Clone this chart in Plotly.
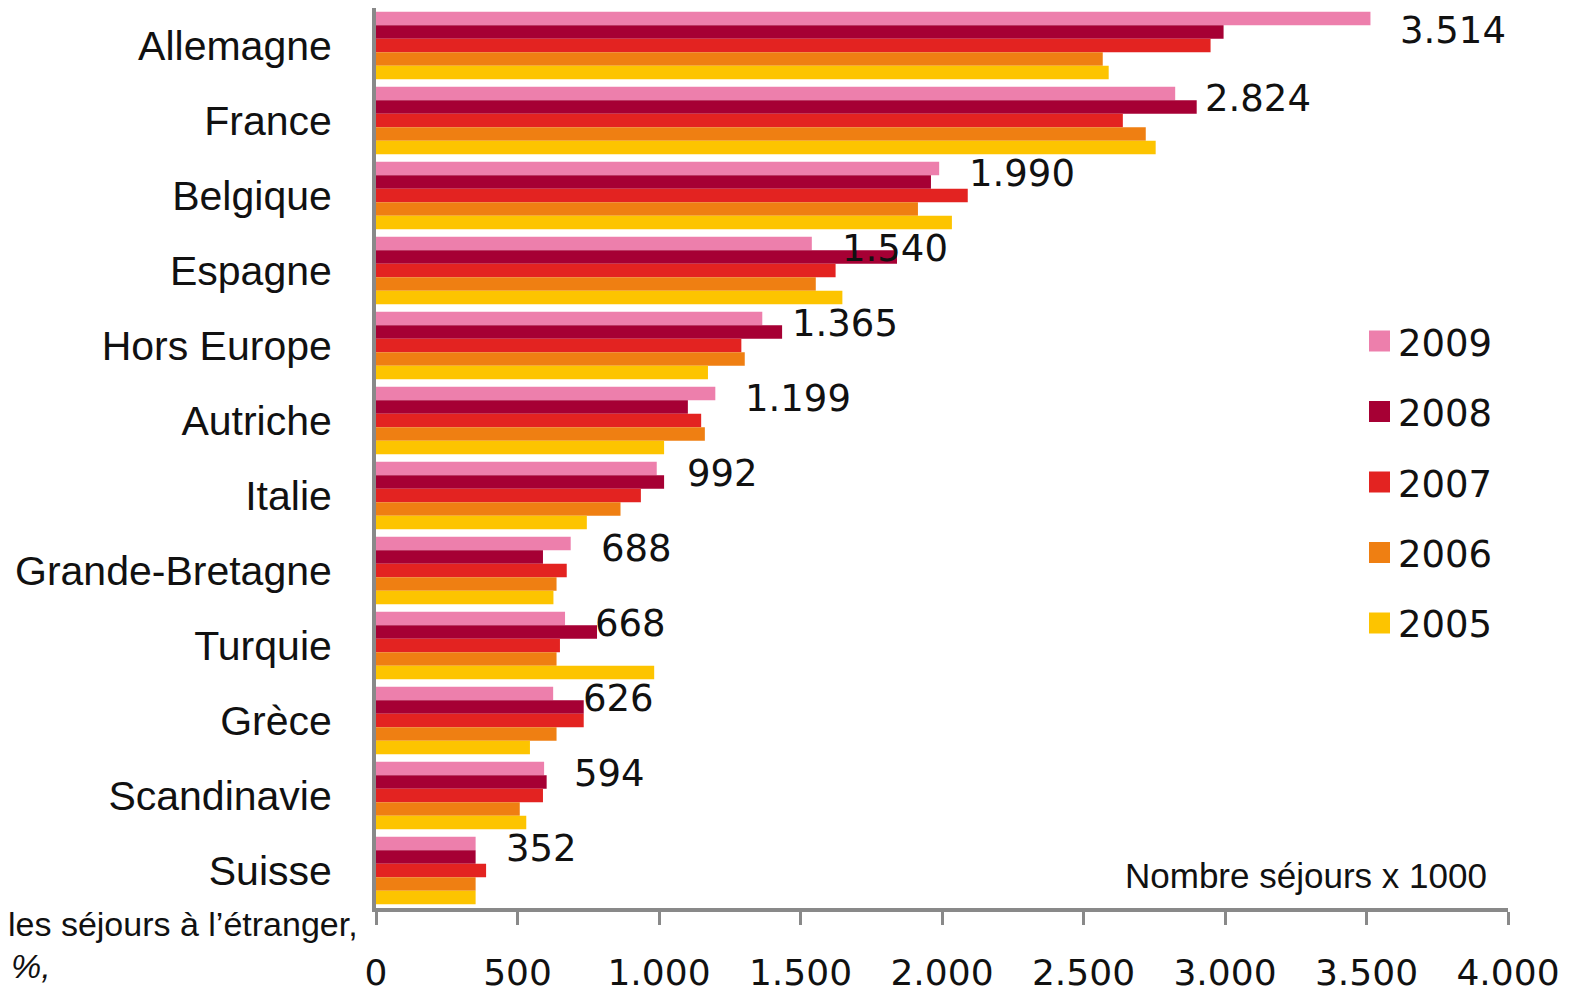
import plotly.graph_objects as go

# ---------------- data ----------------
categories = ["Allemagne", "France", "Belgique", "Espagne", "Hors Europe", "Autriche",
              "Italie", "Grande-Bretagne", "Turquie", "Grèce", "Scandinavie", "Suisse"]
years = ["2009", "2008", "2007", "2006", "2005"]
v2009 = [3514, 2824, 1990, 1540, 1365, 1199, 992, 688, 668, 626, 594, 352]
v2008 = [2995, 2900, 1961, 1841, 1435, 1102, 1018, 590, 781, 734, 603, 352]
v2007 = [2949, 2639, 2091, 1624, 1291, 1149, 936, 674, 650, 734, 590, 389]
v2006 = [2568, 2720, 1915, 1554, 1303, 1162, 864, 638, 638, 638, 508, 352]
v2005 = [2589, 2755, 2035, 1648, 1173, 1018, 745, 627, 983, 544, 531, 352]
labels_2009 = ["3.514", "2.824", "1.990", "1.540", "1.365", "1.199",
               "992", "688", "668", "626", "594", "352"]
tick_vals = [0, 500, 1000, 1500, 2000, 2500, 3000, 3500, 4000]
tick_text = ["0", "500", "1.000", "1.500", "2.000", "2.500", "3.000", "3.500", "4.000"]
unit_text = "Nombre séjours x 1000"
side_text_1 = "les séjours à l’étranger,"
side_text_2 = "%,"

series = [v2009, v2008, v2007, v2006, v2005]
colors = ["#ED7FAC", "#A60034", "#E32321", "#EF7F12", "#FDC400"]

# ---------------- layout constants ----------------
OFF = 8                      # page body margin
W, H = 1571 - OFF, 992 - OFF
ML, MR, MT, MB = 368, 63, 0, 84
PW, PH = W - ML - MR, H - MT - MB
AXIS_GREY = "#898989"


def px_x(px):
    # screen pixel -> paper x
    return (px - OFF - ML) / PW


def px_y(py):
    # screen pixel -> paper y
    return (H - MB - (py - OFF)) / PH


fig = go.Figure()
for name, vals, col in zip(years, series, colors):
    fig.add_trace(go.Bar(
        y=categories, x=vals, name=name, orientation="h",
        marker=dict(color=col, line=dict(width=0)),
        showlegend=False, hoverinfo="x+name",
    ))

# value labels for 2009 (first one sits a little lower to stay inside the top edge)
for i, (cat, val, lab) in enumerate(zip(categories, v2009, labels_2009)):
    fig.add_annotation(x=val, y=cat, xref="x", yref="y", text=lab, showarrow=False,
                       xanchor="left", yanchor="middle", xshift=28,
                       yshift=15 if i == 0 else 22,
                       font=dict(family="DejaVu Sans", size=37, color="#111111"))

# manual legend
for i, (name, col) in enumerate(zip(years, colors)):
    cy = 341 + i * 70.5
    fig.add_shape(type="rect", xref="paper", yref="paper",
                  x0=px_x(1369), x1=px_x(1390), y0=px_y(cy - 10.5), y1=px_y(cy + 10.5),
                  fillcolor=col, line=dict(width=0))
    fig.add_annotation(x=px_x(1396), y=px_y(cy + 2), xref="paper", yref="paper",
                       text=name, showarrow=False, xanchor="left", yanchor="middle",
                       font=dict(family="DejaVu Sans", size=37, color="#111111"))

fig.add_annotation(x=px_x(1489), y=px_y(875), xref="paper", yref="paper", text=unit_text,
                   showarrow=False, xanchor="right", yanchor="middle",
                   font=dict(family="Liberation Sans", size=35, color="#111111"))
fig.add_annotation(x=px_x(360), y=px_y(924), xref="paper", yref="paper", text=side_text_1,
                   showarrow=False, xanchor="right", yanchor="middle",
                   font=dict(family="Liberation Sans", size=34, color="#111111"))
fig.add_annotation(x=px_x(9), y=px_y(966), xref="paper", yref="paper",
                   text="<i>" + side_text_2 + "</i>",
                   showarrow=False, xanchor="left", yanchor="middle",
                   font=dict(family="Liberation Sans", size=34, color="#111111"))

fig.update_layout(
    width=W, height=H,
    margin=dict(l=ML, r=MR, t=MT, b=MB, pad=0, autoexpand=False),
    paper_bgcolor="white", plot_bgcolor="white",
    barmode="group", bargap=0.1, bargroupgap=0,
    showlegend=False,
    xaxis=dict(range=[0, 4000], tickvals=tick_vals, ticktext=tick_text,
               ticks="outside", ticklen=13, tickwidth=3, tickcolor=AXIS_GREY,
               showline=True, linewidth=4, linecolor=AXIS_GREY, automargin=False,
               showgrid=False, zeroline=False, ticklabelstandoff=17,
               tickfont=dict(family="DejaVu Sans", size=36, color="#111111")),
    xaxis2=dict(range=[0, 4000], overlaying="x", anchor="y", side="bottom",
                tickvals=tick_vals, ticks="inside", ticklen=13, tickwidth=3,
                tickcolor=AXIS_GREY, showticklabels=False, showline=False,
                showgrid=False, zeroline=False, automargin=False),
    yaxis=dict(categoryorder="array", categoryarray=categories,
               range=[11.5, -0.5], ticks="", showline=True, linewidth=4,
               linecolor=AXIS_GREY, showgrid=False, zeroline=False,
               ticklabelstandoff=32, automargin=False,
               tickfont=dict(family="Liberation Sans", size=41, color="#111111")),
)

fig.write_html("out.html")
